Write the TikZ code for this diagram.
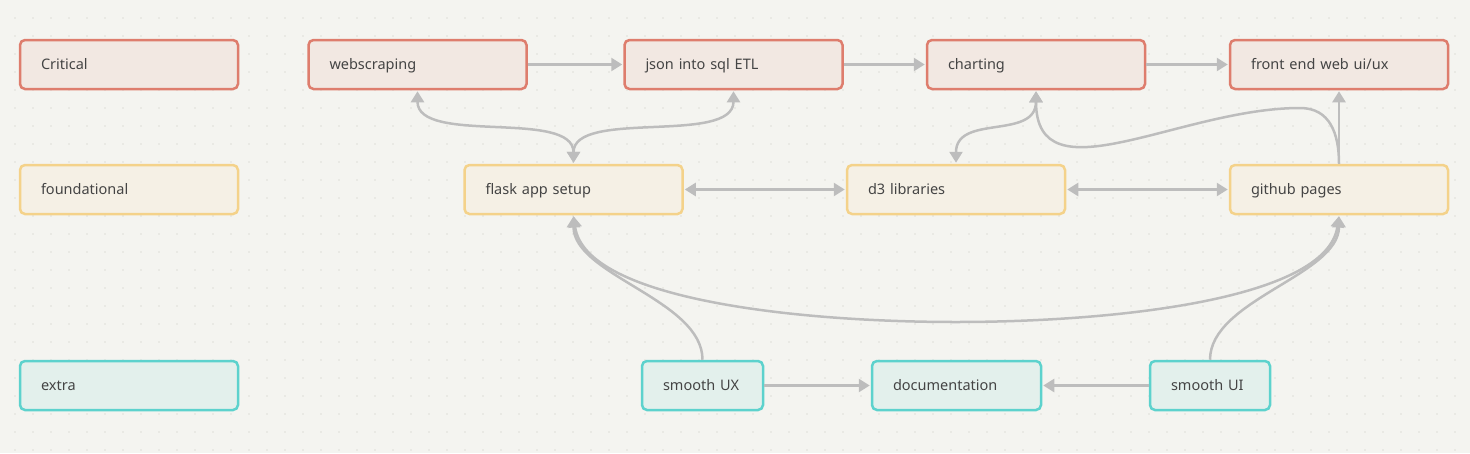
\documentclass[tikz,border=0pt]{standalone}
\usepackage{fontspec}
\setmainfont{Noto Sans}
\usepackage{xcolor}
\usetikzlibrary{arrows.meta}

\definecolor{bgpaper}{HTML}{F4F4F0}
\definecolor{dotgray}{HTML}{DFDFD9}
\definecolor{critline}{HTML}{DE7D6D}
\definecolor{critfill}{HTML}{F2E8E2}
\definecolor{foundline}{HTML}{F4D28A}
\definecolor{foundfill}{HTML}{F5F0E5}
\definecolor{extraline}{HTML}{5DD2CD}
\definecolor{extrafill}{HTML}{E3F0EC}
\definecolor{linkgray}{HTML}{BDBDBD}
\definecolor{labelgray}{HTML}{444444}

\tikzset{
  card/.style={rectangle, rounded corners=5pt, line width=2.5pt,
    minimum height=49pt, text width=#1-42pt, inner xsep=21pt,
    text height=10pt, text depth=0pt,
    align=left, text=labelgray, font=\fontsize{14.5}{16}\selectfont},
  card/.default=218pt,
  critical/.style={card=#1, draw=critline, fill=critfill},
  critical/.default=218pt,
  foundational/.style={card=#1, draw=foundline, fill=foundfill},
  foundational/.default=218pt,
  extra/.style={card=#1, draw=extraline, fill=extrafill},
  extra/.default=218pt,
  link/.style={draw=linkgray, line width=2.5pt, shorten >=1pt,
    -{Triangle[length=11pt,width=13pt]}},
  twoway/.style={link, shorten <=1pt,
    {Triangle[length=11pt,width=13pt]}-{Triangle[length=11pt,width=13pt]}}
}

\begin{document}
\begin{tikzpicture}[x=1pt,y=-1pt]
  \def\rowa{64.5};
  \def\rowb{189.5};
  \def\rowc{385.5};
  % paper and dot grid %
  \fill[bgpaper] (0,0) rectangle (1470,453);
  \useasboundingbox (0,0) rectangle (1470,453);
  \foreach \x in {15,33,...,1470}
    \foreach \y in {18,36,...,453}
      \fill[dotgray] (\x,\y) circle (0.9pt);

  % legend %
  \node[critical] (crit) at (129,\rowa) {Critical};
  \node[foundational] (found) at (129,\rowb) {foundational};
  \node[extra] (extr) at (129,\rowc) {extra};

  % critical row %
  \node[critical] (web) at (417.5,\rowa) {webscraping};
  \node[critical] (json) at (733.5,\rowa) {json into sql ETL};
  \node[critical] (chart) at (1036,\rowa) {charting};
  \node[critical] (front) at (1339,\rowa) {front end web ui/ux};

  % foundational row %
  \node[foundational] (flask) at (573.5,\rowb) {flask app setup};
  \node[foundational] (d3) at (956,\rowb) {d3 libraries};
  \node[foundational] (git) at (1339,\rowb) {github pages};

  % extra row %
  \node[extra=121pt] (sux) at (702.5,\rowc) {smooth UX};
  \node[extra=169pt] (doc) at (956.5,\rowc) {documentation};
  \node[extra=120pt] (sui) at (1210,\rowc) {smooth UI};

  \coordinate (gitbend) at (1300,108);
  \coordinate (arcbottom) at (956,322);

  % straight links %
  \draw[link] (web.east) -- (json.west);
  \draw[link] (json.east) -- (chart.west);
  \draw[link] (chart.east) -- (front.west);
  \draw[twoway] (flask.east) -- (d3.west);
  \draw[twoway] (d3.east) -- (git.west);
  \draw[link] (git.north) -- (front.south);
  \draw[link] (sux.east) -- (doc.west);
  \draw[link] (sui.west) -- (doc.east);

  % curved links %
  \draw[twoway] (web.south) to[out=-90,in=90,distance=55pt] (flask.north);
  \draw[twoway] (json.south) to[out=-90,in=90,distance=55pt] (flask.north);
  \draw[twoway] (chart.south) to[out=-90,in=90,distance=50pt] (d3.north);
  \draw[link] (git.north) to[out=90,in=0,distance=30pt] (gitbend)
    to[out=180,in=-90,out distance=120pt,in distance=110pt] (chart.south);
  \draw[twoway] (flask.south) .. controls (585,300) and (800,322) .. (arcbottom)
    .. controls (1112,322) and (1327,300) .. (git.south);
  \draw[link] (sux.north) to[out=90,in=-90,distance=60pt] (flask.south);
  \draw[link] (sui.north) to[out=90,in=-90,distance=60pt] (git.south);
\end{tikzpicture}
\end{document}
